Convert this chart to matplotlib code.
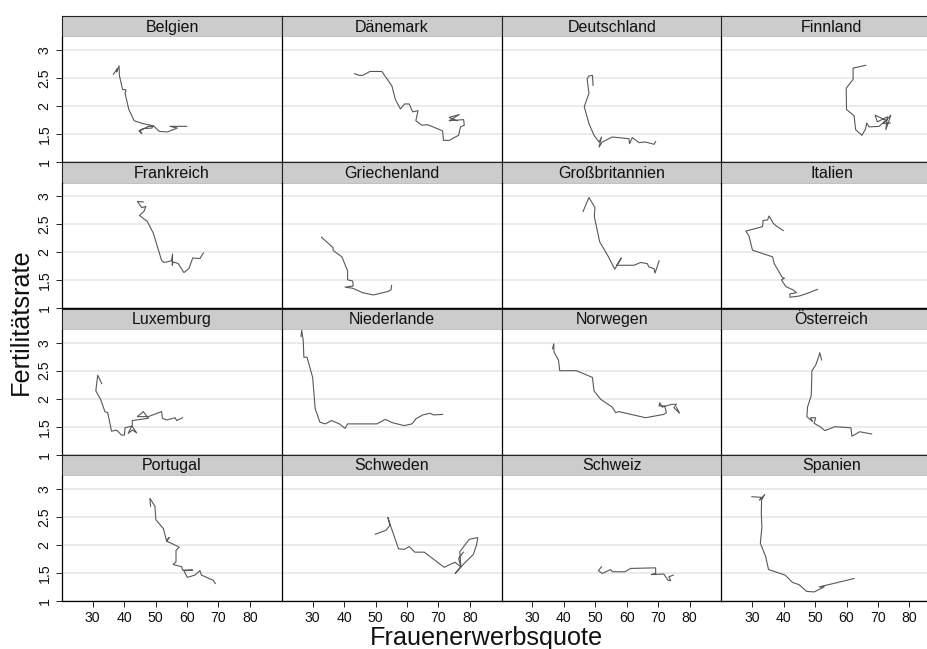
import matplotlib
matplotlib.use('Agg')
import matplotlib.pyplot as plt

plt.rcParams['font.family'] = ['Liberation Sans', 'DejaVu Sans']

W = 928.
H = 649.

belgien_x = [36.6, 37.8, 37.6, 38.4, 38.5, 39.5, 40.6, 40.3, 41.5, 43.2, 45.9, 49.3, 48.8, 46.1, 44.7, 45.6, 45.0, 47.7, 49.5, 51.2, 53.8, 56.9, 54.6, 59.9]
belgien_y = [2.57, 2.67, 2.61, 2.72, 2.55, 2.30, 2.29, 2.23, 1.94, 1.74, 1.69, 1.65, 1.61, 1.60, 1.56, 1.51, 1.56, 1.64, 1.64, 1.55, 1.54, 1.61, 1.64, 1.64]
daenemark_x = [43.3, 44.8, 45.9, 48.2, 52.0, 55.2, 56.3, 57.9, 59.2, 60.7, 61.8, 63.5, 62.8, 64.7, 66.5, 71.3, 71.6, 73.4, 76.4, 77.0, 78.2, 78.0, 75.6, 73.4, 76.6, 73.4, 75.9]
daenemark_y = [2.58, 2.55, 2.55, 2.62, 2.62, 2.36, 2.12, 1.95, 2.04, 2.04, 1.90, 1.92, 1.74, 1.66, 1.67, 1.56, 1.39, 1.39, 1.48, 1.63, 1.66, 1.76, 1.75, 1.74, 1.85, 1.80, 1.74]
deutschland_x = [49.3, 49.1, 48.0, 47.4, 48.0, 46.5, 48.0, 49.6, 51.2, 52.0, 51.2, 52.2, 55.4, 60.7, 60.9, 61.8, 63.9, 66.0, 68.7, 69.2]
deutschland_y = [2.37, 2.55, 2.54, 2.49, 2.23, 1.99, 1.69, 1.48, 1.36, 1.45, 1.27, 1.36, 1.45, 1.42, 1.33, 1.44, 1.35, 1.36, 1.32, 1.37]
finnland_x = [66.1, 62.1, 62.1, 59.9, 60.0, 62.4, 62.9, 64.9, 66.1, 66.4, 67.2, 70.4, 72.5, 69.1, 69.8, 73.0, 72.5, 74.1, 71.7, 73.9]
finnland_y = [2.73, 2.68, 2.48, 2.32, 1.94, 1.83, 1.58, 1.48, 1.60, 1.70, 1.63, 1.64, 1.75, 1.84, 1.72, 1.81, 1.58, 1.84, 1.69, 1.70]
frankreich_x = [46.1, 44.2, 45.6, 46.9, 46.4, 44.9, 47.4, 49.3, 51.9, 52.7, 55.1, 55.4, 55.3, 55.6, 57.2, 59.0, 60.6, 61.8, 64.1, 65.2]
frankreich_y = [2.90, 2.91, 2.80, 2.82, 2.74, 2.66, 2.55, 2.34, 1.86, 1.82, 1.85, 1.97, 1.77, 1.83, 1.80, 1.64, 1.71, 1.90, 1.89, 1.99]
griechenland_x = [32.8, 36.4, 36.6, 39.3, 41.1, 41.1, 42.7, 42.9, 40.3, 42.7, 45.9, 49.3, 53.8, 54.9, 55.1]
griechenland_y = [2.27, 2.09, 2.03, 1.92, 1.67, 1.51, 1.49, 1.40, 1.38, 1.36, 1.28, 1.24, 1.30, 1.33, 1.41]
grossbritannien_x = [46.1, 48.0, 49.9, 49.7, 50.6, 51.4, 54.2, 56.2, 58.3, 56.8, 62.3, 64.4, 66.5, 67.1, 68.7, 69.0, 70.3]
grossbritannien_y = [2.73, 2.98, 2.80, 2.64, 2.40, 2.19, 1.92, 1.70, 1.90, 1.77, 1.77, 1.82, 1.80, 1.74, 1.71, 1.63, 1.85]
italien_x = [39.9, 37.7, 36.7, 35.4, 34.9, 33.5, 33.3, 28.0, 29.0, 30.1, 36.5, 37.0, 39.6, 40.3, 39.3, 40.7, 43.0, 44.1, 42.0, 42.0, 44.9, 47.1, 50.8]
italien_y = [2.39, 2.47, 2.52, 2.65, 2.58, 2.57, 2.46, 2.38, 2.29, 2.04, 1.92, 1.80, 1.55, 1.54, 1.51, 1.39, 1.33, 1.28, 1.26, 1.20, 1.22, 1.26, 1.34]
luxemburg_x = [32.9, 32.3, 31.6, 31.0, 32.5, 33.9, 34.8, 36.0, 37.6, 39.2, 40.1, 40.3, 42.4, 41.3, 42.6, 44.0, 42.6, 42.6, 47.7, 46.1, 44.2, 47.7, 51.9, 52.2, 53.5, 56.2, 56.7, 58.6]
luxemburg_y = [2.27, 2.34, 2.42, 2.14, 1.99, 1.77, 1.75, 1.42, 1.44, 1.35, 1.35, 1.48, 1.51, 1.38, 1.44, 1.39, 1.50, 1.61, 1.65, 1.77, 1.68, 1.68, 1.77, 1.65, 1.62, 1.66, 1.61, 1.66]
niederlande_x = [26.3, 26.5, 27.0, 27.2, 28.2, 30.0, 30.8, 32.3, 34.0, 36.0, 38.5, 40.3, 41.1, 50.4, 53.1, 55.4, 59.1, 61.6, 62.8, 65.0, 67.3, 68.5, 71.3]
niederlande_y = [3.11, 3.22, 3.04, 2.74, 2.74, 2.38, 1.82, 1.58, 1.55, 1.61, 1.55, 1.47, 1.55, 1.55, 1.63, 1.57, 1.52, 1.55, 1.64, 1.71, 1.74, 1.71, 1.72]
norwegen_x = [36.4, 36.8, 36.9, 38.3, 38.7, 44.0, 49.1, 49.6, 51.7, 55.4, 56.5, 57.5, 66.0, 71.8, 72.6, 72.1, 70.3, 70.5, 71.3, 74.3, 75.8, 75.0, 76.8, 75.8]
norwegen_y = [2.89, 2.98, 2.83, 2.69, 2.50, 2.50, 2.38, 2.14, 1.99, 1.85, 1.75, 1.77, 1.66, 1.72, 1.75, 1.87, 1.87, 1.93, 1.85, 1.90, 1.90, 1.84, 1.74, 1.85]
oesterreich_x = [52.1, 51.5, 51.1, 50.2, 49.0, 48.8, 47.6, 47.4, 49.2, 48.6, 50.2, 49.7, 51.6, 53.1, 56.3, 61.4, 61.7, 64.2, 68.0]
oesterreich_y = [2.69, 2.82, 2.74, 2.60, 2.50, 2.06, 1.85, 1.68, 1.59, 1.66, 1.66, 1.56, 1.50, 1.43, 1.50, 1.48, 1.33, 1.41, 1.37]
portugal_x = [48.4, 48.2, 49.8, 50.1, 52.5, 53.5, 54.3, 53.5, 57.5, 56.5, 56.5, 55.6, 58.3, 58.6, 61.8, 59.0, 60.1, 62.5, 64.1, 64.6, 68.3, 69.0]
portugal_y = [2.69, 2.83, 2.69, 2.45, 2.29, 2.07, 2.13, 2.07, 1.96, 1.90, 1.70, 1.65, 1.61, 1.55, 1.55, 1.54, 1.42, 1.46, 1.54, 1.46, 1.37, 1.31]
schweden_x = [49.9, 53.3, 54.6, 53.9, 54.9, 57.3, 59.1, 60.7, 62.5, 65.5, 71.8, 75.2, 77.1, 76.8, 79.8, 82.5, 82.1, 81.1, 78.2, 75.3, 77.1, 76.4, 77.9]
schweden_y = [2.19, 2.26, 2.35, 2.49, 2.32, 1.93, 1.92, 1.97, 1.87, 1.87, 1.60, 1.69, 1.61, 1.88, 2.10, 2.13, 2.00, 1.83, 1.67, 1.49, 1.61, 1.76, 1.87]
schweiz_x = [52.0, 51.0, 52.2, 54.9, 55.4, 59.4, 61.3, 69.2, 69.2, 67.8, 71.8, 73.1, 74.0, 73.4, 74.8]
schweiz_y = [1.61, 1.54, 1.49, 1.56, 1.52, 1.52, 1.58, 1.59, 1.49, 1.47, 1.48, 1.37, 1.36, 1.43, 1.46]
spanien_x = [29.9, 32.8, 32.4, 34.0, 33.0, 32.9, 33.1, 32.6, 34.3, 35.2, 40.5, 42.8, 44.9, 47.3, 49.7, 52.9, 51.3, 55.8, 62.4]
spanien_y = [2.86, 2.85, 2.80, 2.90, 2.80, 2.56, 2.32, 2.03, 1.79, 1.56, 1.46, 1.33, 1.29, 1.17, 1.16, 1.25, 1.25, 1.31, 1.40]

laender = ['Belgien', 'Dänemark', 'Deutschland', 'Finnland',
           'Frankreich', 'Griechenland', 'Großbritannien', 'Italien',
           'Luxemburg', 'Niederlande', 'Norwegen', 'Österreich',
           'Portugal', 'Schweden', 'Schweiz', 'Spanien']
serien = [(belgien_x, belgien_y), (daenemark_x, daenemark_y), (deutschland_x, deutschland_y), (finnland_x, finnland_y),
          (frankreich_x, frankreich_y), (griechenland_x, griechenland_y), (grossbritannien_x, grossbritannien_y), (italien_x, italien_y),
          (luxemburg_x, luxemburg_y), (niederlande_x, niederlande_y), (norwegen_x, norwegen_y), (oesterreich_x, oesterreich_y),
          (portugal_x, portugal_y), (schweden_x, schweden_y), (schweiz_x, schweiz_y), (spanien_x, spanien_y)]
x_ticks = [30, 40, 50, 60, 70, 80]
y_ticks = [1, 1.5, 2, 2.5, 3]
y_labels = ['1', '1.5', '2', '2.5', '3']

col_left = [62, 282, 501.7, 721.5]
col_w = 220
row_top = [16, 162.2, 308.5, 454.7]
strip_h = 21.3
plot_h = 124.9


def px_axes(fig, left, top, w, h):
  return fig.add_axes([left / W, 1 - (top + h) / H, w / W, h / H])


fig = plt.figure(figsize=(W / 100, H / 100), dpi=100)

for i, name in enumerate(laender):
  r, c = divmod(i, 4)
  left = col_left[c]
  top = row_top[r]

  strip = px_axes(fig, left, top, col_w, strip_h)
  strip.set_facecolor('#cccccc')
  strip.set_xticks([])
  strip.set_yticks([])
  for s in strip.spines.values():
    s.set_linewidth(0.8)
    s.set_color('#222222')
  strip.text(0.5, 0.47, name, transform=strip.transAxes, ha='center', va='center',
             fontsize=11.5, color='#111111')

  ax = px_axes(fig, left, top + strip_h, col_w, plot_h)
  ax.set_xlim(20.25, 90.2)
  ax.set_ylim(1, 3.23)
  ax.set_yticks(y_ticks)
  ax.set_xticks(x_ticks)
  ax.grid(axis='y', color='#e6e6e6', lw=1.1)
  ax.set_axisbelow(True)
  ax.plot(serien[i][0], serien[i][1], color='#585858', lw=0.8, clip_on=False)
  ax.spines['top'].set_visible(False)
  ax.spines['right'].set_visible(False)
  ax.spines['left'].set_linewidth(0.9)
  ax.spines['bottom'].set_linewidth(0.9)
  ax.tick_params(axis='both', length=4, width=0.7, labelsize=10.2, color='#222222', labelcolor='#111111', pad=3.5)
  if c == 0:
    ax.set_yticklabels(y_labels, rotation=90, va='center')
  else:
    ax.tick_params(axis='y', left=False, labelleft=False)
  if r == 3:
    ax.set_xticklabels([str(t) for t in x_ticks])
  else:
    ax.tick_params(axis='x', bottom=False, labelbottom=False)

fig.text(486.5 / W, 1 - 638 / H, 'Frauenerwerbsquote', ha='center', va='center', fontsize=18.2, color='#111111')
fig.text(21 / W, 1 - 322 / H, 'Fertilitätsrate', ha='center', va='center', rotation=90, fontsize=18.2, color='#111111')

fig.savefig('out.png', dpi=100)
